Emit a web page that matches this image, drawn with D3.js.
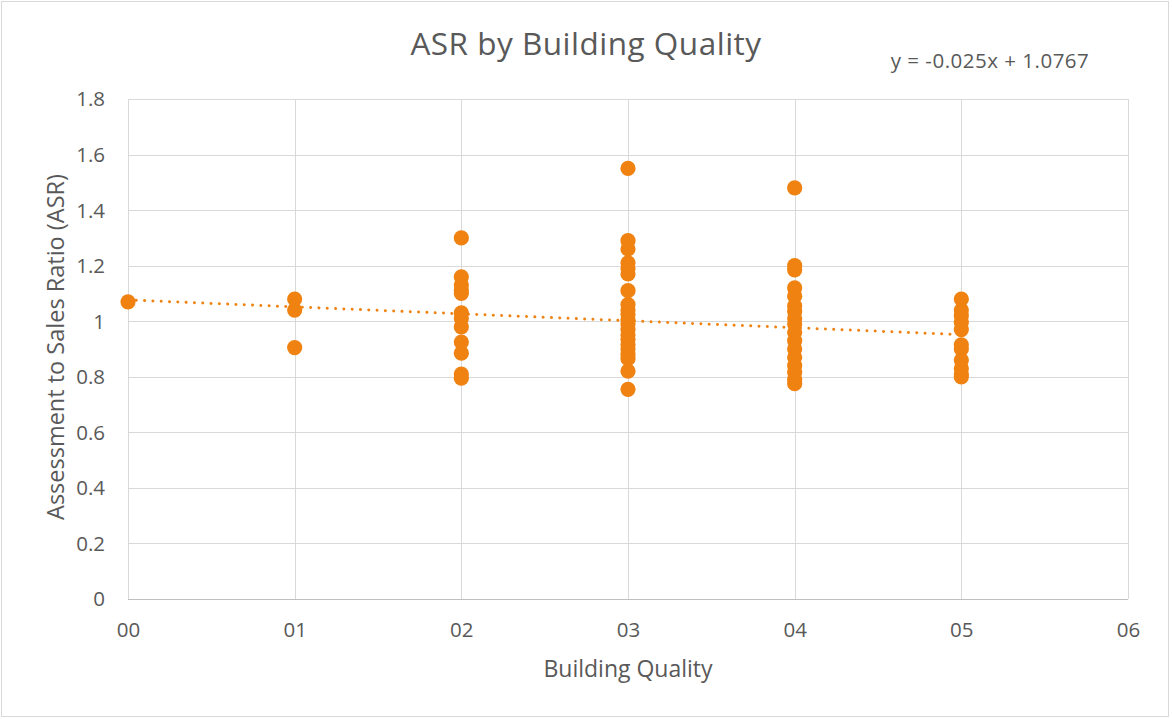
<!DOCTYPE html>
<html><head><meta charset="utf-8">
<script src="https://cdn.jsdelivr.net/npm/d3@7"></script>
<style>html,body{margin:0;padding:0;background:#fff;}svg{display:block;font-family:"Open Sans",sans-serif;}</style>
</head><body><svg id="c" width="1172" height="719"></svg>
<script>
// Data
const qualities = [0, 1, 2, 3, 4, 5];
const q00 = [1.07];
const q01 = [1.08, 1.04, 0.905];
const q02 = [1.30, 1.16, 1.13, 1.11, 1.10, 1.03, 1.01, 0.98, 0.925, 0.885, 0.81, 0.795];
const q03 = [1.55, 1.29, 1.26, 1.21, 1.19, 1.17, 1.11, 1.06, 1.04, 1.025, 1.005, 0.99, 0.97, 0.95, 0.935, 0.915, 0.9, 0.88, 0.865, 0.82, 0.755];
const q04 = [1.48, 1.20, 1.185, 1.12, 1.09, 1.055, 1.035, 1.01, 0.99, 0.96, 0.93, 0.9, 0.87, 0.84, 0.815, 0.79, 0.775];
const q05 = [1.08, 1.04, 1.02, 0.995, 0.97, 0.915, 0.9, 0.86, 0.83, 0.81, 0.8];
const xTicks = [0, 1, 2, 3, 4, 5, 6];
const yTicks = [0, 0.2, 0.4, 0.6, 0.8, 1, 1.2, 1.4, 1.6, 1.8];
const trendSlope = -0.025;
const trendIntercept = 1.0767;
const trendLabel = "y = -0.025x + 1.0767";
const title = "ASR by Building Quality";
const xTitle = "Building Quality";
const yTitle = "Assessment to Sales Ratio (ASR)";

const groups = [q00, q01, q02, q03, q04, q05];
const points = [];
groups.forEach((vals, i) => vals.forEach(v => points.push({x: qualities[i], y: v})));

const color = "#EF8211";
const textColor = "#595959";
const gridColor = "#d9d9d9";

const svg = d3.select("#c");
const m = {left: 128, right: 1128, top: 99, bottom: 599};

svg.append("rect").attr("x", 1.5).attr("y", 1.5).attr("width", 1167).attr("height", 715)
  .attr("fill", "#fff").attr("stroke", "#d9d9d9").attr("stroke-width", 1);

const x = d3.scaleLinear().domain([0, 6]).range([m.left, m.right]);
const y = d3.scaleLinear().domain([0, 1.8]).range([m.bottom, m.top]);

// gridlines
const g = svg.append("g");
g.selectAll("line.h").data(yTicks).join("line")
  .attr("x1", m.left).attr("x2", m.right)
  .attr("y1", d => Math.round(y(d)) + 0.5).attr("y2", d => Math.round(y(d)) + 0.5)
  .attr("stroke", gridColor).attr("stroke-width", 1);
g.selectAll("line.v").data(xTicks).join("line")
  .attr("y1", m.top).attr("y2", m.bottom)
  .attr("x1", d => Math.round(x(d)) + 0.5).attr("x2", d => Math.round(x(d)) + 0.5)
  .attr("stroke", gridColor).attr("stroke-width", 1);
svg.append("line").attr("x1", m.left).attr("x2", m.right)
  .attr("y1", Math.round(y(0)) + 0.5).attr("y2", Math.round(y(0)) + 0.5)
  .attr("stroke", "#bfbfbf").attr("stroke-width", 1);

// axes
const yAxis = svg.append("g").attr("transform", `translate(${m.left - 23},0)`)
  .call(d3.axisLeft(y).tickValues(yTicks).tickSize(0).tickPadding(0).tickFormat(d3.format("~g")));
yAxis.select(".domain").remove();
yAxis.selectAll("text").attr("fill", textColor).attr("font-size", 20.5).attr("font-family", "Open Sans").attr("dy", "0.34em");

const xAxis = svg.append("g").attr("transform", `translate(0,${m.bottom + 38})`)
  .call(d3.axisBottom(x).tickValues(xTicks).tickSize(0).tickPadding(0).tickFormat(d => d3.format("02d")(d)));
xAxis.select(".domain").remove();
xAxis.selectAll("text").attr("fill", textColor).attr("font-size", 20.5).attr("font-family", "Open Sans").attr("dy", 0);

// trendline
const trend = [0, 5].map(q => ({x: q, y: trendIntercept + trendSlope * q}));
svg.append("path").datum(trend)
  .attr("d", d3.line().x(d => x(d.x)).y(d => y(d.y)))
  .attr("fill", "none").attr("stroke", color).attr("stroke-width", 3)
  .attr("stroke-linecap", "round").attr("stroke-dasharray", "0.01 8.3");

// points
svg.append("g").selectAll("circle").data(points).join("circle")
  .attr("cx", d => x(d.x)).attr("cy", d => y(d.y)).attr("r", 7.6)
  .attr("fill", color);

// texts
svg.append("text").attr("x", 586).attr("y", 55).attr("text-anchor", "middle")
  .attr("font-size", 31.5).attr("letter-spacing", 0.5).attr("fill", textColor).text(title);
svg.append("text").attr("x", (m.left + m.right) / 2).attr("y", 677).attr("text-anchor", "middle")
  .attr("font-size", 23).attr("fill", textColor).text(xTitle);
svg.append("text").attr("transform", `translate(64,${(m.top + m.bottom) / 2 - 2}) rotate(-90)`)
  .attr("text-anchor", "middle").attr("font-size", 23.5).attr("fill", textColor).text(yTitle);
svg.append("text").attr("x", 990).attr("y", 68).attr("text-anchor", "middle")
  .attr("font-size", 20.5).attr("letter-spacing", 0.5).attr("fill", textColor).text(trendLabel);
</script></body></html>
